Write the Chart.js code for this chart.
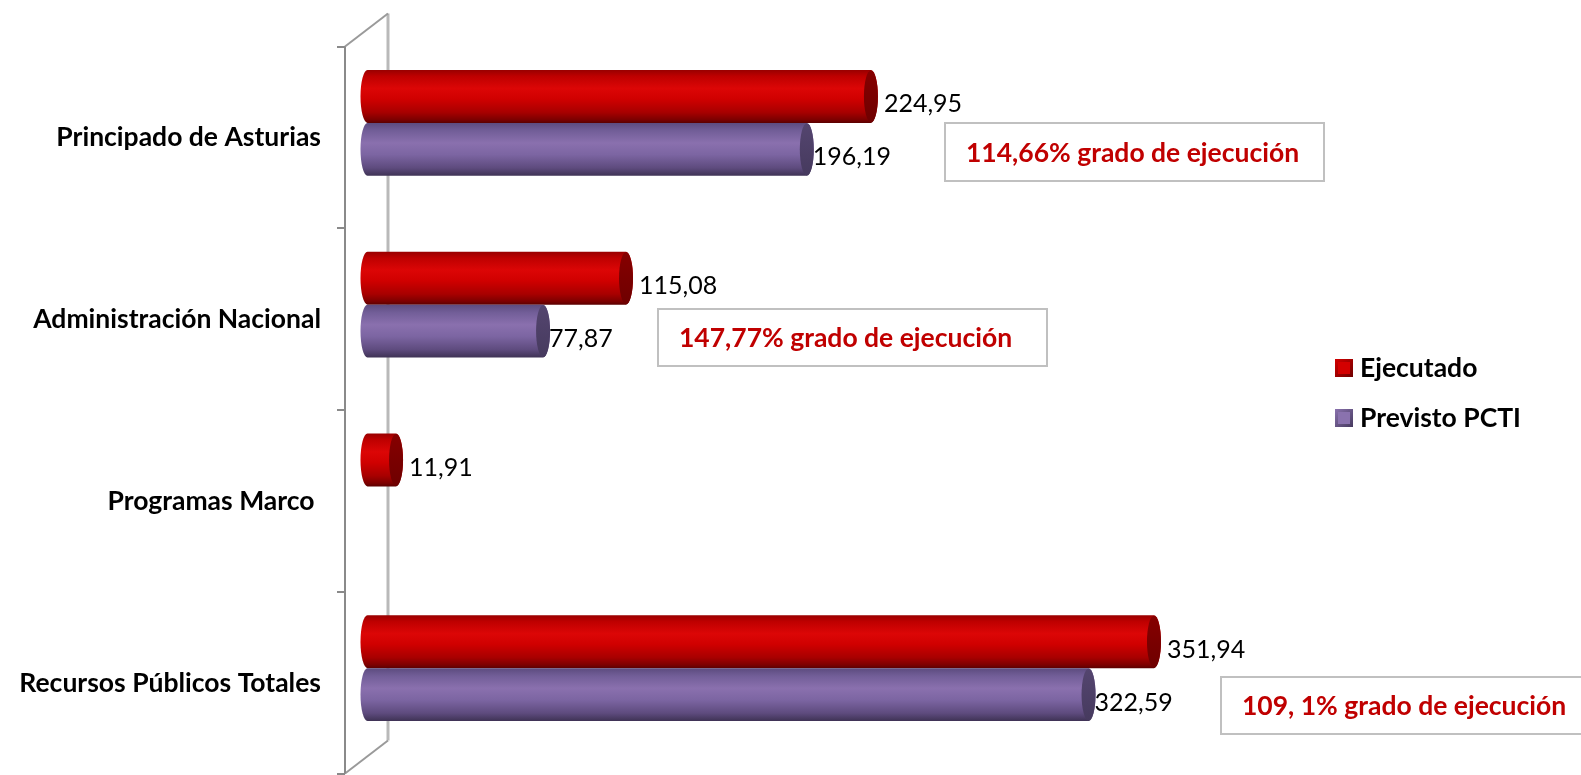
<!DOCTYPE html>
<html>
<head>
<meta charset="utf-8">
<script src="https://cdn.jsdelivr.net/npm/chart.js@4.4.1/dist/chart.umd.min.js"></script>
<style>
html,body{margin:0;padding:0;background:#fff;}
#wrap{position:relative;width:1581px;height:775px;}
</style>
</head>
<body>
<div id="wrap"><canvas id="c" width="1581" height="775"></canvas></div>
<script>
// ---- data ----
const categories = ['Principado de Asturias', 'Administración Nacional', 'Programas Marco ', 'Recursos Públicos Totales'];
const seriesNames = ['Ejecutado', 'Previsto PCTI'];
const ejecutado = [224.95, 115.08, 11.91, 351.94];
const previsto = [196.19, 77.87, null, 322.59];
const gradoTexts = ['114,66% grado de ejecución', '147,77% grado de ejecución', null, '109, 1% grado de ejecución'];

// ---- styles / layout ----
const palette = {
  red: {body: [[0,'#980000'],[0.12,'#be0000'],[0.35,'#dc0606'],[0.55,'#d00000'],[0.8,'#a80000'],[0.94,'#7c0000'],[1,'#5c0000']],
        cap: ['#860000','#6e0000'], legend: '#d40000'},
  purple: {body: [[0,'#5c4b7e'],[0.15,'#725e98'],[0.38,'#8a70ae'],[0.6,'#7c65a2'],[0.85,'#5e4b7e'],[1,'#3e3254']],
        cap: ['#54456f','#463a5e'], legend: '#8a72ae'}
};
const seriesStyle = [palette.red, palette.purple];
const labelDx = [13, 6];
const gradoBoxes = [ {x:945, y:123, w:379, h:58}, {x:658, y:309, w:389, h:57}, null, {x:1221, y:677, w:380, h:57} ];
const FONT = 'Lato, "Open Sans", sans-serif';

const cylPlugin = {
  id: 'cyl3d',
  beforeDatasetsDraw(chart) {
    const ctx = chart.ctx, ca = chart.chartArea;
    const n = categories.length;
    const band = (ca.bottom - ca.top) / n;
    const offY = 14.5;
    const frontX = ca.left - 24.5, backX = ca.left + 18.5, dY = -33;
    const yTop = ca.top + offY, yBot = ca.top + offY + n * band;
    ctx.save();
    ctx.strokeStyle = '#b9b9b9'; ctx.lineWidth = 3;
    ctx.beginPath(); ctx.moveTo(backX, yTop + dY); ctx.lineTo(backX, yBot + dY); ctx.stroke();
    ctx.strokeStyle = '#9a9a9a'; ctx.lineWidth = 2;
    ctx.beginPath(); ctx.moveTo(frontX, yTop); ctx.lineTo(backX, yTop + dY); ctx.stroke();
    ctx.beginPath(); ctx.moveTo(frontX, yBot); ctx.lineTo(backX, yBot + dY); ctx.stroke();
    ctx.strokeStyle = '#8a8a8a'; ctx.lineWidth = 2;
    ctx.beginPath(); ctx.moveTo(frontX, yTop); ctx.lineTo(frontX, yBot); ctx.stroke();
    for (let k = 0; k <= n; k++) {
      const ty = Math.round(yTop + k * band);
      ctx.beginPath(); ctx.moveTo(frontX - 8, ty); ctx.lineTo(frontX, ty); ctx.stroke();
    }
    ctx.restore();
  },
  afterDatasetsDraw(chart) {
    const ctx = chart.ctx;
    ctx.save();
    chart.data.datasets.forEach((ds, di) => {
      const meta = chart.getDatasetMeta(di);
      const st = seriesStyle[di];
      meta.data.forEach((el, i) => {
        if (ds.data[i] === null || ds.data[i] === undefined) return;
        const p = el.getProps(['x','y','base','height'], true);
        const h = p.height, top = p.y - h/2, bot = p.y + h/2, ry = h/2, rx = 7;
        const L = p.base - 2, R = p.x;
        const g = ctx.createLinearGradient(0, top, 0, bot);
        st.body.forEach(s => g.addColorStop(s[0], s[1]));
        ctx.fillStyle = g;
        ctx.beginPath();
        ctx.moveTo(R, top);
        ctx.lineTo(L, top);
        ctx.ellipse(L, p.y, rx, ry, 0, -Math.PI/2, Math.PI/2, true);
        ctx.lineTo(R, bot);
        ctx.ellipse(R, p.y, rx, ry, 0, Math.PI/2, -Math.PI/2, true);
        ctx.closePath();
        ctx.fill();
        const gc = ctx.createLinearGradient(0, top, 0, bot);
        gc.addColorStop(0, st.cap[0]); gc.addColorStop(1, st.cap[1]);
        ctx.fillStyle = gc;
        ctx.beginPath();
        ctx.ellipse(R, p.y, rx, ry - 0.5, 0, 0, Math.PI * 2);
        ctx.fill();
      });
    });
    ctx.fillStyle = '#000';
    ctx.font = '25px ' + FONT;
    ctx.textAlign = 'left'; ctx.textBaseline = 'middle';
    chart.data.datasets.forEach((ds, di) => {
      const meta = chart.getDatasetMeta(di);
      meta.data.forEach((el, i) => {
        const v = ds.data[i];
        if (v === null || v === undefined) return;
        const p = el.getProps(['x','y'], true);
        ctx.fillText(v.toFixed(2).replace('.', ','), p.x + labelDx[di], p.y + 8);
      });
    });
    ctx.restore();
  },
  afterDraw(chart) {
    const ctx = chart.ctx;
    ctx.save();
    chart.data.datasets.forEach((ds, di) => {
      const st = seriesStyle[di];
      const sx = 1335, sy = 359 + di * 50, s = 18;
      const g = ctx.createLinearGradient(sx, sy, sx + s, sy + s);
      g.addColorStop(0, st.legend); g.addColorStop(1, st.cap[1]);
      ctx.fillStyle = g;
      ctx.fillRect(sx, sy, s, s);
      ctx.fillStyle = st.legend;
      ctx.fillRect(sx + 3, sy + 3, s - 6, s - 6);
      ctx.fillStyle = '#000';
      ctx.font = 'bold 26.5px ' + FONT;
      ctx.textAlign = 'left'; ctx.textBaseline = 'middle';
      ctx.fillText(ds.label, 1360, sy + 9);
    });
    gradoTexts.forEach((t, i) => {
      const b = gradoBoxes[i];
      if (!t || !b) return;
      ctx.fillStyle = '#fff';
      ctx.fillRect(b.x, b.y, b.w, b.h);
      ctx.strokeStyle = '#c0c0c0'; ctx.lineWidth = 2;
      ctx.strokeRect(b.x, b.y, b.w, b.h);
      ctx.fillStyle = '#c00000';
      ctx.font = 'bold 26.5px ' + FONT;
      ctx.textAlign = 'left'; ctx.textBaseline = 'middle';
      ctx.fillText(t, b.x + 21, b.y + b.h/2 + 1);
    });
    ctx.restore();
  }
};

new Chart(document.getElementById('c'), {
  type: 'bar',
  data: {
    labels: categories,
    datasets: [
      {label: seriesNames[0], data: ejecutado, backgroundColor: 'rgba(0,0,0,0)'},
      {label: seriesNames[1], data: previsto, backgroundColor: 'rgba(0,0,0,0)'}
    ]
  },
  options: {
    indexAxis: 'y',
    responsive: false,
    animation: false,
    events: [],
    layout: {padding: {left: 0, right: 97, top: 32, bottom: 16}},
    datasets: {bar: {categoryPercentage: 0.583, barPercentage: 1}},
    plugins: {legend: {display: false}, tooltip: {enabled: false}},
    scales: {
      x: {display: false, min: 0, max: 500},
      y: {
        afterFit(s) { s.width = 369.5; s.paddingTop = 0; s.paddingBottom = 0; },
        grid: {display: false, drawTicks: false},
        border: {display: false},
        ticks: {padding: 48.5, labelOffset: 15, color: '#000', font: {family: FONT, size: 26.5, weight: 'bold'}}
      }
    }
  },
  plugins: [cylPlugin]
});
</script>
</body>
</html>
